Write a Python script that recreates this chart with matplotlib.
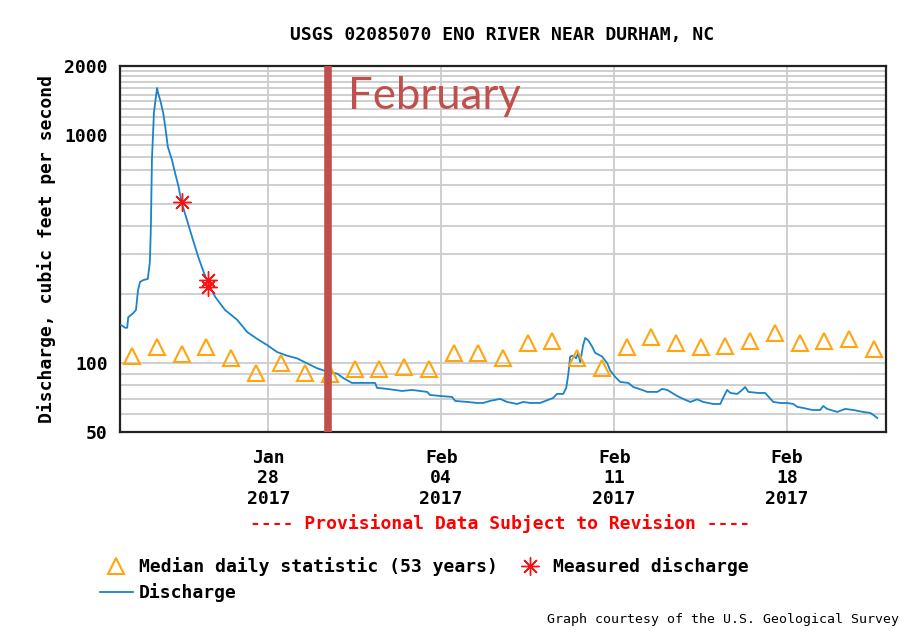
import matplotlib
matplotlib.use("Agg")
import matplotlib.pyplot as plt
import matplotlib.dates as mdates
import pandas as pd

plt.rcParams["font.family"] = "DejaVu Sans Mono"
plt.rcParams["font.weight"] = "bold"

site_title = "USGS 02085070 ENO RIVER NEAR DURHAM, NC"
y_label = "Discharge, cubic feet per second"

# 15-minute discharge (cfs)
discharge_times = [
    "01-22 01:00", "01-22 05:00", "01-22 07:00", "01-22 08:00", "01-22 13:00",
    "01-22 15:30", "01-22 17:30", "01-22 19:30", "01-22 22:30", "01-23 03:00",
    "01-23 05:00", "01-23 06:00", "01-23 07:00", "01-23 09:00", "01-23 12:00",
    "01-23 13:00", "01-23 15:00", "01-23 18:00", "01-23 20:00", "01-23 22:30",
    "01-24 02:30", "01-24 05:30", "01-24 08:30", "01-24 12:00", "01-24 17:00",
    "01-24 22:00", "01-25 04:00", "01-25 08:30", "01-25 13:30", "01-25 20:30",
    "01-26 06:00", "01-26 17:45", "01-27 03:30", "01-27 13:00", "01-27 23:00",
    "01-28 08:30", "01-28 18:00", "01-29 04:00", "01-29 13:30", "01-29 23:30",
    "01-30 09:00", "01-30 19:00", "01-31 00:45", "01-31 09:15", "01-31 20:00",
    "02-01 07:45", "02-01 09:40", "02-01 19:30", "02-02 10:00", "02-02 19:40",
    "02-03 10:20", "02-03 13:10", "02-03 23:00", "02-04 10:30", "02-04 13:30",
    "02-05 01:10", "02-05 10:50", "02-05 16:45", "02-05 23:30", "02-06 09:10",
    "02-06 16:00", "02-07 01:40", "02-07 07:40", "02-07 14:20", "02-08 00:00",
    "02-08 07:50", "02-08 12:45", "02-08 16:30", "02-08 22:30", "02-09 01:25",
    "02-09 03:20", "02-09 05:15", "02-09 08:10", "02-09 11:00", "02-09 13:00",
    "02-09 15:00", "02-09 17:50", "02-09 19:50", "02-09 22:45", "02-10 02:40",
    "02-10 05:30", "02-10 12:15", "02-10 17:15", "02-10 20:05", "02-11 01:00",
    "02-11 05:50", "02-11 13:40", "02-11 18:30", "02-12 03:10", "02-12 08:10",
    "02-12 17:50", "02-12 22:40", "02-13 03:30", "02-13 08:20", "02-13 13:10",
    "02-13 19:00", "02-14 01:50", "02-14 08:40", "02-14 14:25", "02-15 00:20",
    "02-15 07:00", "02-15 09:50", "02-15 13:40", "02-15 16:50", "02-15 23:30",
    "02-16 04:20", "02-16 07:10", "02-16 10:20", "02-16 20:00", "02-17 02:40",
    "02-17 10:30", "02-17 17:20", "02-18 00:00", "02-18 06:00", "02-18 09:50",
    "02-18 15:40", "02-19 00:30", "02-19 08:10", "02-19 11:00", "02-19 14:50",
    "02-20 00:40", "02-20 08:20", "02-20 16:20", "02-21 01:50", "02-21 08:40",
    "02-21 11:40", "02-21 15:30",
]
discharge_cfs = [
    147, 143, 143, 159, 166,
    171, 209, 227, 231, 234,
    277, 395, 775, 1258, 1602,
    1523, 1420, 1245, 1081, 884,
    775, 680, 603, 503, 424,
    357, 292, 256, 225, 195,
    171, 155, 137, 128, 120,
    112, 108, 105, 100, 95,
    92, 90, 86.2, 82.0, 82.0,
    82.0, 78.0, 77.2, 75.6, 76.4,
    74.9, 72.6, 71.9, 71.2, 68.4,
    67.7, 67.0, 67.0, 68.4, 69.8,
    67.7, 66.3, 67.7, 67.0, 67.0,
    69.1, 70.5, 73.4, 73.4, 78.0,
    88.9, 107, 108, 105, 111,
    101, 120, 129, 126, 118,
    111, 107, 100, 93, 87.1,
    82.8, 82.0, 78.7, 76.4, 74.9,
    74.9, 77.2, 76.4, 74.1, 71.9,
    69.8, 67.7, 69.5, 67.7, 66.3,
    66.3, 70.5, 76.4, 74.1, 73.4,
    76.4, 78.7, 74.9, 74.1, 74.1,
    67.7, 67.0, 67.0, 66.3, 64.4,
    63.7, 62.4, 62.4, 65.0, 63.1,
    61.2, 63.1, 62.4, 61.2, 60.6,
    59.4, 57.6,
]

# median daily statistic (53 years), one value per day at noon
median_start = "2017-01-22 12:00"
median_cfs = [
    108, 118, 110, 118, 105, 91, 100, 91, 90, 94,
    94, 96, 94, 111, 111, 105, 122, 125, 105, 95,
    118, 130, 122, 118, 119, 125, 136, 122, 125, 128, 116,
]

measured_times = ["2017-01-24 12:00", "2017-01-25 13:30", "2017-01-25 13:30"]
measured_cfs = [508, 231, 216]

month_marker = "2017-01-30 10:30"
month_label = "February"

x_start, x_end = "2017-01-22", "2017-02-22"
y_ticks = [50, 100, 1000, 2000]
grid_levels = [60, 70, 80, 90, 100, 200, 300, 400, 500, 600, 700, 800, 900,
               1000, 1100, 1200, 1300, 1400, 1500, 1600, 1700, 1800, 1900]
week_ticks = ["2017-01-28", "2017-02-04", "2017-02-11", "2017-02-18"]

q_time = pd.to_datetime(["2017-" + t for t in discharge_times])
m_time = pd.date_range(median_start, periods=len(median_cfs), freq="D")
s_time = pd.to_datetime(measured_times)

fig = plt.figure(figsize=(9.05, 6.33), dpi=100)
ax = fig.add_axes([120 / 905, 201 / 633, 766 / 905, 366 / 633])

ax.set_yscale("log")
ax.set_ylim(50, 2000)
ax.set_xlim(pd.Timestamp(x_start), pd.Timestamp(x_end))

for lvl in grid_levels:
    ax.axhline(lvl, color="#cccccc", lw=1.3, zorder=0)
for wk in week_ticks:
    ax.axvline(pd.Timestamp(wk), color="#cccccc", lw=1.3, zorder=0)

ax.plot(q_time, discharge_cfs, color="#1a83cc", lw=1.3, zorder=3,
        label="Discharge")
ax.plot(m_time, median_cfs, ls="none", marker="^", ms=12, mfc="none",
        mec="#ffa510", mew=1.5, zorder=4,
        label="Median daily statistic (53 years)")
ax.plot(s_time, measured_cfs, ls="none", marker=(8, 2, 0), ms=13,
        color="#ff1010", mew=1.0, zorder=5, label="Measured discharge")

ax.axvline(pd.Timestamp(month_marker), ymax=0.995, color="#c0504d", lw=5.5,
           zorder=6)
ax.text(pd.Timestamp(month_marker) + pd.Timedelta(hours=19), 1470, month_label,
        family="Lato", fontweight="normal", fontsize=31.5, color="#c0504d",
        va="center", ha="left", zorder=7)

ax.set_yticks(y_ticks)
ax.set_yticklabels([str(v) for v in y_ticks])
ax.yaxis.set_minor_locator(matplotlib.ticker.NullLocator())
ax.set_xticks(pd.to_datetime(week_ticks))
ax.xaxis.set_major_formatter(mdates.DateFormatter("%b\n%d\n%Y"))
ax.tick_params(axis="both", length=0, labelsize=13)
ax.tick_params(axis="y", pad=9)
ax.tick_params(axis="x", pad=12)
for lbl in ax.get_xticklabels():
    lbl.set_linespacing(1.2)

for side in ax.spines.values():
    side.set_linewidth(1.6)
    side.set_color("#222222")

ax.set_ylabel(y_label, fontsize=13, fontweight="bold", labelpad=6)
fig.text(0.555, 1 - 35 / 633, site_title, ha="center", va="center", fontsize=13)
fig.text(0.553, 1 - 524 / 633, "---- Provisional Data Subject to Revision ----",
         ha="center", va="center", fontsize=13, color="#ff0000")
fig.text(1 - 6 / 905, 1 - 620 / 633, "Graph courtesy of the U.S. Geological Survey",
         ha="right", va="center", fontsize=9.5, fontweight="normal")

handles, labels = ax.get_legend_handles_labels()
order = [1, 0, 2]
fig.legend([handles[i] for i in order], [labels[i] for i in order],
           loc="upper left", bbox_to_anchor=(100 / 905, 1 - 557 / 633),
           ncol=2, frameon=False, fontsize=13, handlelength=1.8,
           handletextpad=0.35, labelspacing=0.4, columnspacing=0.9,
           borderpad=0, borderaxespad=0)

fig.savefig("out.png", dpi=100)
